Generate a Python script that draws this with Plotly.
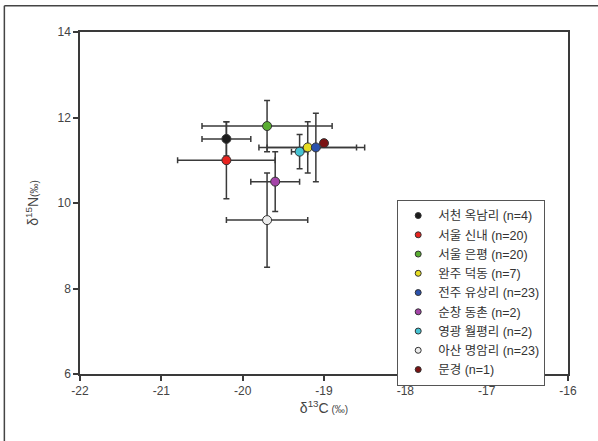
import plotly.graph_objects as go

names = ["서천 옥남리 (n=4)", "서울 신내 (n=20)", "서울 은평 (n=20)", "완주 덕동 (n=7)",
         "전주 유상리 (n=23)", "순창 동촌 (n=2)", "영광 월평리 (n=2)", "아산 명암리 (n=23)", "문경 (n=1)"]
d13c = [-20.2, -20.2, -19.7, -19.2, -19.1, -19.6, -19.3, -19.7, -19.0]
d15n = [11.5, 11.0, 11.8, 11.3, 11.3, 10.5, 11.2, 9.6, 11.4]
sd13c = [0.3, 0.6, 0.8, 0.6, 0.6, 0.3, 0.1, 0.5, 0.0]
sd15n = [0.4, 0.9, 0.6, 0.6, 0.8, 0.7, 0.4, 1.1, 0.0]
colors = ["#1c1c1c", "#e8231f", "#5aad32", "#e6dc22", "#2b52ad", "#a444a8", "#45c3d3", "#ececec", "#7a1212"]

x_ticks = [-22, -21, -20, -19, -18, -17, -16]
y_ticks = [6, 8, 10, 12, 14]

fig = go.Figure()

# error bars first (beneath all markers)
for i in range(len(names)):
    if sd13c[i] == 0 and sd15n[i] == 0:
        continue
    fig.add_trace(go.Scatter(
        x=[d13c[i]], y=[d15n[i]], mode="markers",
        marker=dict(size=1, color="rgba(0,0,0,0)"),
        error_x=dict(type="data", array=[sd13c[i]], color="#3a3a3a", thickness=1.5, width=3),
        error_y=dict(type="data", array=[sd15n[i]], color="#3a3a3a", thickness=1.5, width=3),
        showlegend=False, hoverinfo="skip"))

# data markers
for i in range(len(names)):
    fig.add_trace(go.Scatter(
        x=[d13c[i]], y=[d15n[i]], mode="markers", name=names[i], showlegend=False,
        marker=dict(size=9, color=colors[i], line=dict(color="#333333", width=1))))

# legend entries (smaller symbols)
for i in range(len(names)):
    fig.add_trace(go.Scatter(
        x=[None], y=[None], mode="markers", name=names[i],
        marker=dict(size=6, color=colors[i], line=dict(color="#333333", width=1))))

axis_common = dict(showline=True, linecolor="#3a3a3a", linewidth=1.5, mirror=True,
                   ticks="outside", ticklen=5, tickcolor="#3a3a3a", tickwidth=1.5,
                   showgrid=False, zeroline=False,
                   tickfont=dict(family="Liberation Sans, Arial", size=12, color="#444444"))

fig.update_xaxes(range=[-22, -16], tickvals=x_ticks, ticktext=[str(v) for v in x_ticks],
                 title=dict(text="δ<sup>13</sup>C<span style='font-size:10px'> (‰)</span>",
                            font=dict(family="Liberation Sans, Arial", size=14, color="#444444"),
                            standoff=6),
                 **axis_common)
fig.update_yaxes(range=[6, 14], tickvals=y_ticks, ticktext=[str(v) for v in y_ticks],
                 title=dict(text="δ<sup>15</sup>N<span style='font-size:10px'>(‰)</span>",
                            font=dict(family="Liberation Sans, Arial", size=14, color="#444444"),
                            standoff=16),
                 **axis_common)

fig.update_layout(
    width=598, height=441,
    margin=dict(l=80, r=30, t=32, b=67),
    paper_bgcolor="white", plot_bgcolor="white",
    showlegend=True,
    legend=dict(x=0.65, y=0.509, xanchor="left", yanchor="top",
                bgcolor="white", bordercolor="#555555", borderwidth=1,
                font=dict(family="Liberation Sans, Noto Sans CJK KR", size=12.5, color="#333333"),
                tracegroupgap=0),
    shapes=[
        dict(type="line", xref="paper", yref="paper", layer="above",
             x0=-0.155, y0=1.077, x1=1.2, y1=1.077, line=dict(color="#444444", width=1.5)),
        dict(type="line", xref="paper", yref="paper", layer="above",
             x0=-0.155, y0=1.077, x1=-0.155, y1=-0.4, line=dict(color="#444444", width=1.5)),
    ],
)

fig.write_html("out.html", config={"displayModeBar": False},
               post_script="document.body.style.margin='0';document.body.style.padding='0';")
